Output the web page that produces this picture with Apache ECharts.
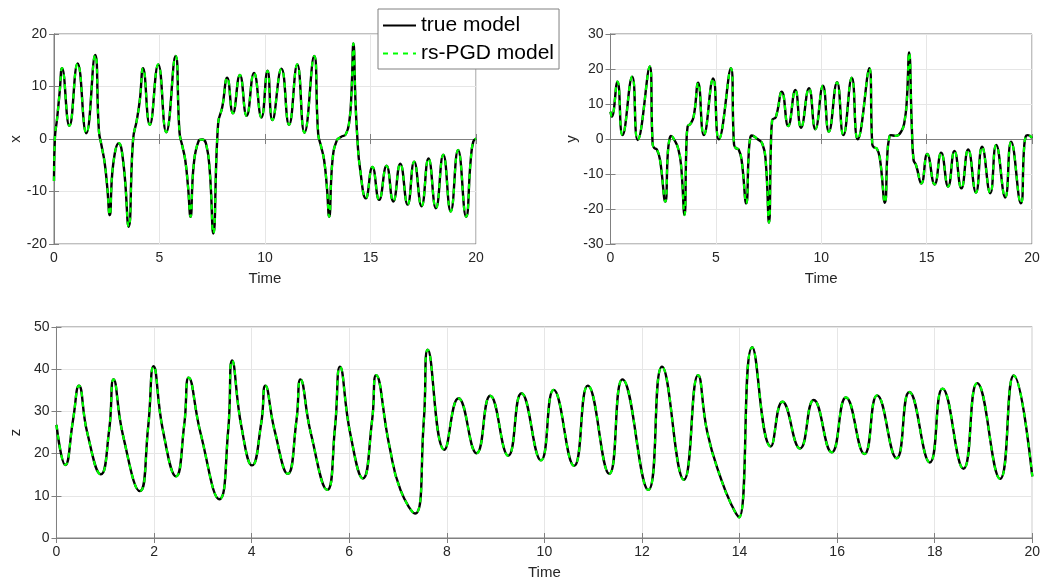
<!DOCTYPE html>
<html><head><meta charset="utf-8">
<script src="https://cdn.jsdelivr.net/npm/echarts@6/dist/echarts.min.js"></script>
<style>html,body{margin:0;padding:0;background:#fff}#c{width:1046px;height:582px}</style>
</head><body><div id="c"></div>
<script>
// x(t) of the true model (time, value)
const xTrue = [
[0,-8],[0.04,0],[0.15,4],[0.27,9],[0.38,13.5],
[0.73,2.5],[1.12,14.4],[1.53,1.1],[1.95,16],
[2.13,1.5],[2.25,-1.2],[2.4,-4.5],[2.52,-9],[2.64,-14.5],
[2.8,-5],[3.07,-0.8],[3.3,-5],[3.54,-16.7],
[3.75,0],[3.92,3.5],[4.07,7.5],[4.22,13.5],
[4.54,2.7],[4.94,14.2],[5.32,1.3],[5.76,15.8],
[5.95,1.2],[6.08,-1.3],[6.22,-4],[6.35,-9],[6.47,-14.8],
[6.62,-5],[6.85,-0.4],[7.02,-0.1],[7.2,-0.8],[7.38,-6],[7.55,-18],
[7.78,3],[7.97,6],[8.21,11.7],
[8.48,4.9],[8.81,12.2],[9.13,4.4],[9.48,12.6],[9.83,4.1],[10.12,13],
[10.35,3.6],[10.78,13.4],[11.14,2.7],[11.53,14.2],[11.87,1.2],[12.33,15.8],
[12.52,1],[12.65,-1.3],[12.8,-4],[12.93,-9],[13.04,-14.8],
[13.2,-4],[13.4,-0.3],[13.6,0.4],[13.83,0.9],[14.0,3.5],[14.1,9],[14.19,18.2],
[14.29,7],[14.38,0],[14.5,-5.5],[14.78,-11.3],
[15.09,-5.3],[15.41,-11.6],[15.76,-5.1],[16.08,-11.9],[16.41,-4.7],[16.76,-12.5],
[17.07,-4.3],[17.42,-12.8],[17.75,-3.7],[18.1,-13.2],[18.45,-3.0],[18.8,-13.8],
[19.15,-2.1],[19.53,-14.8],[19.75,-4],[19.87,-0.5],[20,0.1]
];
// y(t) of the true model
const yTrue = [
[0,7.8],[0.06,6.4],[0.33,16.4],[0.57,1.1],[1.03,17.8],[1.29,-0.3],[1.86,20.7],
[2.0,-1.5],[2.08,-2.6],[2.2,-3],[2.35,-6],[2.6,-17.9],
[2.72,-4],[2.8,0],[2.87,0.9],[3.05,-0.5],[3.2,-2.5],[3.34,-7],[3.51,-21.7],
[3.6,-2],[3.66,3.6],[3.79,4.3],[3.95,6.5],[4.16,16.1],
[4.43,1.1],[4.87,17.3],[5.14,-0.1],[5.71,20.2],
[5.86,-1.5],[5.95,-2.6],[6.08,-3],[6.22,-6],[6.44,-18.4],
[6.56,-4],[6.63,0.3],[6.7,1.0],[6.97,0],[7.2,-1.3],[7.36,-6],[7.52,-23.9],
[7.61,-2],[7.67,5.4],[7.84,6.2],[8.13,13.5],
[8.43,3.7],[8.77,14],[9.04,3.2],[9.42,14.5],[9.72,2.8],[10.08,15.2],[10.36,2.1],
[10.75,16.2],[11.05,1.1],[11.45,17.5],[11.73,-0.1],[12.28,20.2],
[12.42,-1.5],[12.5,-2.4],[12.63,-2.7],[12.78,-5.5],[13.02,-18.2],
[13.14,-4],[13.22,0.2],[13.3,1.1],[13.54,0.9],[13.8,2.2],[13.95,5],[14.06,11],[14.17,24.7],
[14.3,3],[14.38,-6],[14.5,-7.5],[14.75,-12.7],
[15.03,-4.3],[15.38,-13],[15.69,-3.9],[16.02,-13.6],[16.32,-3.4],[16.65,-14.1],
[16.97,-3.0],[17.34,-15.3],[17.63,-2.2],[18.02,-15.5],[18.30,-1.7],[18.73,-16.7],
[19.01,-0.8],[19.47,-18.4],[19.62,-3],[19.7,0.7],[19.8,1.1],[20,0.3]
];
// z(t) of the true model
const zTrue = [
[0,26.8],[0.18,17.3],[0.34,28],[0.46,36.1],
[0.63,25],[0.91,15.1],[1.08,25.6],[1.17,37.6],
[1.36,24.5],[1.71,11.1],[1.88,26.4],[1.99,40.7],
[2.18,25.6],[2.45,14.6],[2.62,27],[2.71,38.0],
[2.95,25],[3.34,9.2],[3.52,25.6],[3.60,42.1],
[3.79,26.4],[4.01,17.2],[4.20,27.5],[4.28,36.1],
[4.47,25.5],[4.74,15.2],[4.92,28],[5.0,37.6],
[5.21,25],[5.55,11.4],[5.71,26.4],[5.81,40.6],
[6.02,24.8],[6.28,14.1],[6.47,28],[6.55,38.6],
[6.82,22],[7.05,11.4],[7.35,5.8],[7.53,28],[7.61,44.6],
[7.95,20.9],[8.24,33.1],[8.61,20.1],[8.89,33.7],[9.26,19.5],[9.53,34.3],[9.93,18.4],
[10.19,35.1],[10.61,17.1],[10.89,36.1],[11.33,15.2],[11.60,37.6],[12.13,11.4],
[12.41,40.6],[12.86,13.8],[13.15,38.6],[13.34,25],[13.62,14],[13.85,7.5],[13.99,4.9],
[14.26,45.2],[14.64,21.7],
[14.88,32.3],[15.24,21.2],[15.52,32.7],[15.89,20.3],[16.18,33.3],[16.56,19.9],
[16.82,33.8],[17.22,18.9],[17.48,34.6],[17.90,17.9],[18.16,35.4],[18.59,16.4],
[18.87,36.7],[19.34,14.0],[19.62,38.5],[20,14.6]
];
// rs-PGD model: visually identical to the true model
const xPGD = xTrue.map(p => p.slice());
const yPGD = yTrue.map(p => p.slice());
const zPGD = zTrue.map(p => p.slice());

const topTicks = 5, bottomTicks = 2;
const seriesNames = ['true model', 'rs-PGD model'];

const FONT = '"Liberation Sans", Arial, Helvetica, sans-serif';
const TXT = '#262626', AX = '#808080', GRID = '#e6e6e6';

function xAx(grid, interval, withName) {
  return [{
    type: 'value', gridIndex: grid, min: 0, max: 20, interval: interval, position: 'bottom',
    axisLine: {show: true, lineStyle: {color: AX}},
    axisTick: {inside: true, length: 5, lineStyle: {color: AX}},
    axisLabel: {color: TXT, fontSize: 14, fontFamily: FONT, margin: 7},
    splitLine: {show: true, lineStyle: {color: GRID, width: 1}},
    name: withName ? 'Time' : '', nameLocation: 'middle', nameGap: 27,
    nameTextStyle: {color: TXT, fontSize: 15, fontFamily: FONT}
  }, {
    type: 'value', gridIndex: grid, min: 0, max: 20, interval: interval, position: 'top',
    axisLine: {show: true, lineStyle: {color: AX}},
    axisTick: {inside: true, length: 5, lineStyle: {color: AX}},
    axisLabel: {show: false}, splitLine: {show: false}
  }];
}
function yAx(grid, min, max, interval, name, gap) {
  return [{
    type: 'value', gridIndex: grid, min: min, max: max, interval: interval, position: 'left',
    axisLine: {show: true, lineStyle: {color: AX}},
    axisTick: {inside: true, length: 5, lineStyle: {color: AX}},
    axisLabel: {color: TXT, fontSize: 14, fontFamily: FONT, margin: 7},
    splitLine: {show: true, lineStyle: {color: GRID, width: 1}},
    name: name, nameLocation: 'middle', nameRotate: 90, nameGap: gap,
    nameTextStyle: {color: TXT, fontSize: 15, fontFamily: FONT}
  }, {
    type: 'value', gridIndex: grid, min: min, max: max, interval: interval, position: 'right',
    axisLine: {show: true, lineStyle: {color: AX}},
    axisTick: {inside: true, length: 5, lineStyle: {color: AX}},
    axisLabel: {show: false}, splitLine: {show: false}
  }];
}
function pair(data, dataP, xi, yi) {
  return [{
    name: seriesNames[0], type: 'line', data: data, xAxisIndex: xi, yAxisIndex: yi,
    showSymbol: false, symbol: 'none', smooth: 0.5, color: '#000000', z: 2,
    lineStyle: {color: '#000000', width: 2.4}
  }, {
    name: seriesNames[1], type: 'line', data: dataP, xAxisIndex: xi, yAxisIndex: yi,
    showSymbol: false, symbol: 'none', smooth: 0.5, color: '#00ff00', z: 3,
    lineStyle: {color: '#00ff00', width: 2.2, type: [5, 5]}
  }];
}

const chart = echarts.init(document.getElementById('c'), null, {renderer: 'canvas'});
chart.setOption({
  animation: false,
  backgroundColor: '#ffffff',
  textStyle: {fontFamily: FONT},
  grid: [
    {left: 54, top: 34, width: 422, height: 210, show: true, borderColor: AX, borderWidth: 1, backgroundColor: 'transparent'},
    {left: 610.5, top: 34, width: 421.5, height: 210, show: true, borderColor: AX, borderWidth: 1, backgroundColor: 'transparent'},
    {left: 54, top: 327, width: 978.3, height: 211, show: true, borderColor: AX, borderWidth: 1, backgroundColor: 'transparent'}
  ],
  xAxis: [].concat(xAx(0, topTicks, true), xAx(1, topTicks, true), xAx(2, bottomTicks, true)),
  yAxis: [].concat(yAx(0, -20, 20, 10, 'x', 30), yAx(1, -30, 30, 10, 'y', 29), yAx(2, 0, 50, 10, 'z', 25)),
  legend: {
    data: seriesNames, orient: 'vertical', left: 378, top: 9,
    backgroundColor: '#ffffff', borderColor: AX, borderWidth: 1,
    padding: [6, 5, 5, 4], itemWidth: 33, itemHeight: 20, itemGap: 7,
    itemStyle: {opacity: 0},
    textStyle: {color: '#000000', fontSize: 21, fontFamily: FONT},
    z: 10
  },
  series: [].concat(pair(xTrue, xPGD, 0, 0), pair(yTrue, yPGD, 2, 2), pair(zTrue, zPGD, 4, 4))
});
</script></body></html>
